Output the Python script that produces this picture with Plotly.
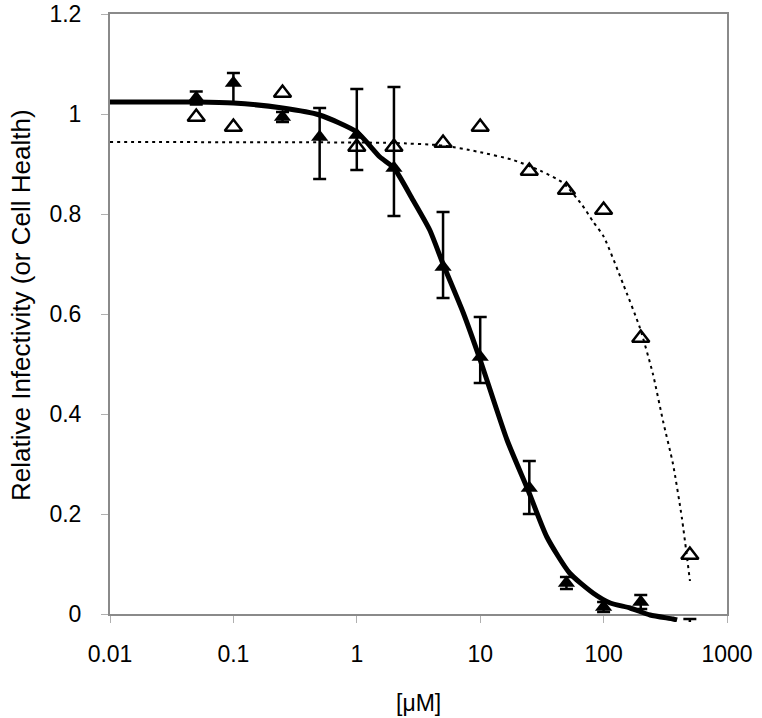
import plotly.graph_objects as go

# Concentration (uM) for infectivity data (filled triangles)
inf_x = [0.05, 0.1, 0.25, 0.5, 1, 2, 5, 10, 25, 50, 100, 200, 500]
inf_y = [1.032, 1.062, 0.994, 0.954, 0.958, 0.892, 0.694, 0.514, 0.252, 0.062, 0.014, 0.024, -0.045]
inf_err_plus = [0.013, 0.02, 0.01, 0.058, 0.092, 0.162, 0.11, 0.08, 0.054, 0.012, 0.01, 0.014, 0.035]
inf_err_minus = [0.013, 0.04, 0.01, 0.084, 0.07, 0.096, 0.062, 0.052, 0.052, 0.012, 0.01, 0.014, 0.0]

# Cell health data (open triangles)
cell_x = [0.05, 0.1, 0.25, 1, 2, 5, 10, 25, 50, 100, 200, 500]
cell_y = [0.994, 0.974, 1.042, 0.934, 0.934, 0.942, 0.974, 0.886, 0.848, 0.808, 0.552, 0.118]

# Fitted curve for infectivity (solid)
fit_inf_x = [0.01, 0.05, 0.1, 0.25, 0.5, 1, 1.54, 2, 2.85, 3.9, 5, 7.3, 10, 16.5, 24.4,
             34.7, 53, 82, 113, 164, 238, 365, 394]
fit_inf_y = [1.024, 1.024, 1.022, 1.012, 0.998, 0.964, 0.914, 0.892, 0.828, 0.768, 0.70,
             0.602, 0.508, 0.348, 0.248, 0.154, 0.082, 0.042, 0.022, 0.012, -0.002, -0.01, -0.012]

# Fitted curve for cell health (dotted)
fit_cell_x = [0.01, 1, 2, 5, 9.4, 18.5, 30.5, 47, 67, 82, 100, 144, 197, 251, 303, 365, 431, 501]
fit_cell_y = [0.944, 0.943, 0.942, 0.937, 0.925, 0.908, 0.887, 0.862, 0.818, 0.785, 0.755,
              0.66, 0.572, 0.48, 0.386, 0.30, 0.192, 0.066]

tick_vals = [0.01, 0.1, 1, 10, 100, 1000]
tick_text = ["0.01", "0.1", "1", "10", "100", "1000"]
ytick_vals = [0, 0.2, 0.4, 0.6, 0.8, 1, 1.2]
ytick_text = ["0", "0.2", "0.4", "0.6", "0.8", "1", "1.2"]

FONT = "Liberation Sans, Arial, sans-serif"
Y_MAX = 1.2
Y_EXT = -0.016            # extra room below zero for the overlay subplot (curve tail)
main_d0 = (0 - Y_EXT) / (Y_MAX - Y_EXT)

fig = go.Figure()

# cell-health series on the main axes
fig.add_trace(go.Scatter(
    x=fit_cell_x, y=fit_cell_y, mode="lines",
    line=dict(color="black", width=2, dash="3px,4px", shape="spline", smoothing=0.6),
    hoverinfo="skip", showlegend=False))

fig.add_trace(go.Scatter(
    x=cell_x, y=cell_y, mode="markers",
    marker=dict(symbol="triangle-up-open", size=15, color="black",
                line=dict(color="black", width=2.5)),
    showlegend=False))

# infectivity series on an invisible, aligned subplot that extends slightly below y=0
fig.add_trace(go.Scatter(
    x=fit_inf_x, y=fit_inf_y, mode="lines", xaxis="x2", yaxis="y2",
    line=dict(color="black", width=5, shape="spline", smoothing=0.6),
    hoverinfo="skip", showlegend=False))

fig.add_trace(go.Scatter(
    x=inf_x, y=inf_y, mode="markers", xaxis="x2", yaxis="y2",
    marker=dict(symbol="triangle-up", size=15, color="black"),
    error_y=dict(type="data", symmetric=False, array=inf_err_plus,
                 arrayminus=inf_err_minus, color="black", thickness=2.5, width=6.5),
    showlegend=False))

axis_common = dict(showgrid=False, zeroline=False, automargin=False)

fig.update_layout(
    template="none",
    width=762, height=718,
    margin=dict(l=110, r=35, t=14, b=96, pad=0),
    paper_bgcolor="white", plot_bgcolor="rgba(0,0,0,0)",
    font=dict(family=FONT, color="black", size=23),
    xaxis=dict(type="log", range=[-2, 3], tickvals=tick_vals, ticktext=tick_text,
               domain=[0, 1], anchor="y",
               showline=True, mirror=True, linecolor="#8a8a8a", linewidth=2,
               ticks="outside", ticklen=7, tickcolor="#b0b0b0", tickwidth=1,
               ticklabelstandoff=11, ticklabeloverflow="allow",
               tickfont=dict(family=FONT, size=23, color="black"), **axis_common),
    yaxis=dict(range=[0, Y_MAX], tickvals=ytick_vals, ticktext=ytick_text,
               domain=[main_d0, 1], anchor="x",
               showline=True, mirror=True, linecolor="#8a8a8a", linewidth=2,
               ticks="outside", ticklen=7, tickcolor="#b0b0b0", tickwidth=1,
               ticklabelstandoff=15, ticklabeloverflow="allow",
               tickfont=dict(family=FONT, size=23, color="black"), **axis_common),
    xaxis2=dict(type="log", range=[-2, 3], domain=[0, 1], anchor="y2",
                visible=False, **axis_common),
    yaxis2=dict(range=[Y_EXT, Y_MAX], domain=[0, 1], anchor="x2",
                visible=False, **axis_common),
    annotations=[
        dict(text="Relative Infectivity (or Cell Health)", textangle=-90,
             xref="paper", yref="paper", x=(21 - 110) / 617, y=(622 - 305) / 608,
             xanchor="center", yanchor="middle", showarrow=False,
             font=dict(family=FONT, size=26, color="black")),
        dict(text="[\u03bcM]", xref="paper", yref="paper",
             x=0.5, y=(622 - 703) / 608, xanchor="center", yanchor="middle",
             showarrow=False, font=dict(family=FONT, size=23, color="black")),
    ],
)

fig.write_html("out.html", config={"displayModeBar": False},
               post_script="document.body.style.margin='0';document.body.style.overflow='hidden';")
